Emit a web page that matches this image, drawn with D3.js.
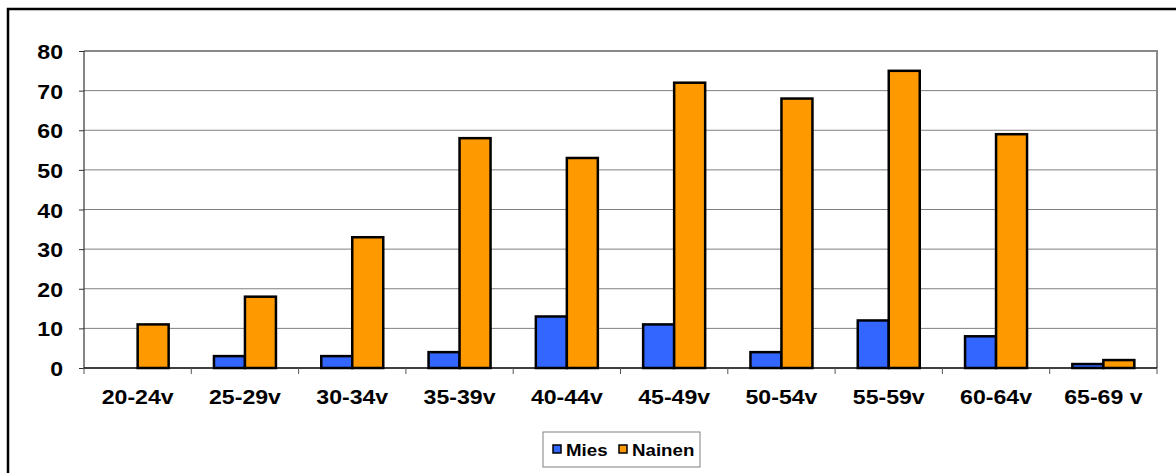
<!DOCTYPE html>
<html>
<head>
<meta charset="utf-8">
<script src="https://cdn.jsdelivr.net/npm/d3@7"></script>
<style>
  html, body { margin: 0; padding: 0; background: #fff; }
  svg { display: block; }
  text { font-family: Arial, "Liberation Sans", sans-serif; font-weight: bold; fill: #000; }
</style>
</head>
<body>
<svg id="chart" width="1176" height="473"></svg>
<script>
// Age groups and counts per group
const categories = ["20-24v", "25-29v", "30-34v", "35-39v", "40-44v", "45-49v", "50-54v", "55-59v", "60-64v", "65-69 v"];
const mies   = [0, 3, 3, 4, 13, 11, 4, 12, 8, 1];
const nainen = [11, 18, 33, 58, 53, 72, 68, 75, 59, 2];
const seriesNames = ["Mies", "Nainen"];
const seriesColors = ["#3366FF", "#FF9900"];
const yTicks = [0, 10, 20, 30, 40, 50, 60, 70, 80];

const series = [mies, nainen];
const svg = d3.select("#chart");
const stretch = 1.1; // labels are drawn slightly wide

// Outer chart frame (right and bottom edges run off the canvas)
svg.append("rect")
  .attr("x", 8).attr("y", 9).attr("width", 1200).attr("height", 500)
  .attr("fill", "#fff").attr("stroke", "#000").attr("stroke-width", 2.5);

const plot = { left: 84, right: 1157, top: 51, bottom: 368 };

const x = d3.scaleBand().domain(categories).range([plot.left, plot.right]).paddingInner(0).paddingOuter(0);
const y = d3.scaleLinear().domain([0, 80]).range([plot.bottom, plot.top]);
const barW = 31;
const xs = d3.scaleBand().domain(seriesNames).range([0, barW * 2]).padding(0);

// Gridlines
svg.append("g").selectAll("line").data(yTicks.filter(d => d > 0 && d < 80)).join("line")
  .attr("x1", plot.left).attr("x2", plot.right)
  .attr("y1", d => y(d)).attr("y2", d => y(d))
  .attr("stroke", "#808080").attr("stroke-width", 1);

// Plot area border: top and right in grey
svg.append("line").attr("x1", plot.left).attr("x2", plot.right + 1)
  .attr("y1", y(80)).attr("y2", y(80)).attr("stroke", "#888").attr("stroke-width", 2);
svg.append("line").attr("x1", plot.right).attr("x2", plot.right)
  .attr("y1", y(80)).attr("y2", plot.bottom).attr("stroke", "#888").attr("stroke-width", 2);

// Bars
categories.forEach((c, i) => {
  const g = svg.append("g")
    .attr("transform", `translate(${x(c) + (x.bandwidth() - barW * 2) / 2},0)`);
  seriesNames.forEach((s, k) => {
    const v = series[k][i];
    if (v <= 0) return;
    g.append("rect")
      .attr("x", xs(s)).attr("width", xs.bandwidth())
      .attr("y", y(v)).attr("height", y(0) - y(v))
      .attr("fill", seriesColors[k]).attr("stroke", "#000").attr("stroke-width", 2.5);
  });
});

// Y axis
const yAxis = svg.append("g").attr("transform", `translate(${plot.left},0)`)
  .call(d3.axisLeft(y).tickValues(yTicks).tickSize(5).tickFormat(d3.format("d")));
yAxis.select(".domain").attr("stroke", "#333").attr("stroke-width", 1.2).attr("d", `M0,${plot.top}V${plot.bottom}`);
yAxis.selectAll(".tick line").attr("stroke", "#333");
yAxis.selectAll(".tick text")
  .attr("x", null).attr("dy", null)
  .attr("text-anchor", "end")
  .attr("font-size", 21)
  .attr("transform", `translate(-21,7.5) scale(${stretch},1)`);

// X axis
const xAxis = svg.append("g").attr("transform", `translate(0,${plot.bottom})`);
xAxis.append("line").attr("x1", plot.left).attr("x2", plot.right)
  .attr("stroke", "#000").attr("stroke-width", 1.5);
const bounds = categories.map(c => x(c)).concat([plot.right]);
xAxis.selectAll("line.tk").data(bounds).join("line").attr("class", "tk")
  .attr("x1", d => d).attr("x2", d => d).attr("y1", 0).attr("y2", 6)
  .attr("stroke", "#555").attr("stroke-width", 1);
xAxis.selectAll("text").data(categories).join("text")
  .attr("text-anchor", "middle")
  .attr("font-size", 21)
  .attr("transform", d => `translate(${x(d) + x.bandwidth() / 2},35.5) scale(${stretch},1)`)
  .text(d => d);

// Legend
const legend = svg.append("g").attr("transform", "translate(543,432)");
legend.append("rect").attr("width", 157).attr("height", 35)
  .attr("fill", "#fff").attr("stroke", "#808080").attr("stroke-width", 1);
const legendX = [10, 76];
seriesNames.forEach((s, k) => {
  legend.append("rect")
    .attr("x", legendX[k]).attr("y", 13).attr("width", 8).attr("height", 8)
    .attr("fill", seriesColors[k]).attr("stroke", "#000").attr("stroke-width", 1.5);
  legend.append("text")
    .attr("font-size", 17)
    .attr("transform", `translate(${legendX[k] + 13},23.5) scale(${stretch},1)`)
    .text(s);
});
</script>
</body>
</html>
